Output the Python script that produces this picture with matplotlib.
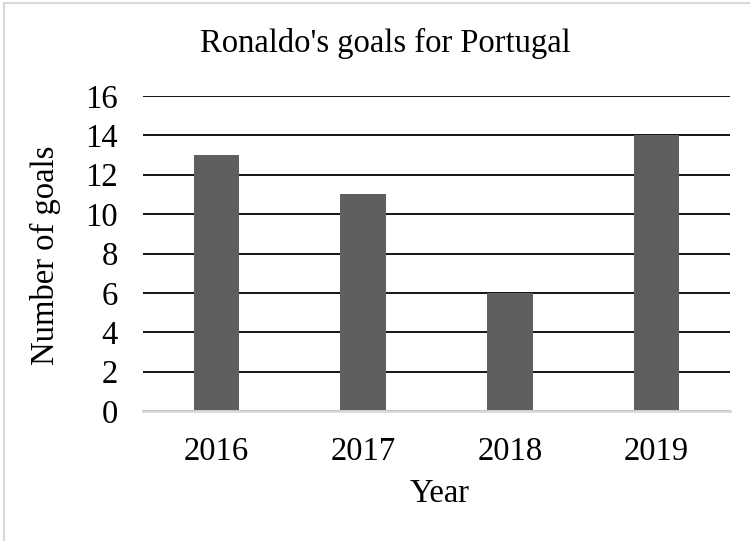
import matplotlib.pyplot as plt
from matplotlib.patches import Rectangle

years = ['2016', '2017', '2018', '2019']
goals = [13, 11, 6, 14]

plt.rcParams['font.family'] = ['Liberation Serif', 'DejaVu Serif']

fig = plt.figure(figsize=(7.5, 5.41), dpi=100)
ax = fig.add_axes([143 / 750, 1 - 411 / 541, 587 / 750, 315 / 541])

x = range(len(years))
ax.bar(x, goals, width=0.31, color='#5f5f5f', zorder=1)
ax.set_xlim(-0.5, len(years) - 0.5)
ax.set_ylim(0, 16)
ax.set_yticks(range(0, 17, 2))
ax.set_xticks(list(x))
ax.set_xticklabels(years)

ax.set_axisbelow(True)
ax.yaxis.grid(True, color='black', linewidth=1.3)
for s in ['top', 'left', 'right']:
    ax.spines[s].set_visible(False)
ax.spines['bottom'].set_color('#d9d9d9')
ax.spines['bottom'].set_linewidth(2)
ax.spines['bottom'].set_zorder(3)
ax.tick_params(axis='both', length=0, labelsize=23.5)
ax.tick_params(axis='y', pad=18)
ax.tick_params(axis='x', pad=18)

fig.text(385 / 750, 1 - 43 / 541, "Ronaldo's goals for Portugal", fontsize=23.5,
         ha='center', va='center')
fig.text(440 / 750, 1 - 494 / 541, 'Year', fontsize=23.5, ha='center', va='center')
fig.text(45 / 750, 1 - 255 / 541, 'Number of goals', fontsize=23.5, rotation=90,
         ha='center', va='center')

# outer chart border (only top/left visible in the crop)
fig.patches.append(Rectangle((4 / 750, -0.2), 1.2, 1.2 - 3 / 541,
                             transform=fig.transFigure, fill=False,
                             edgecolor='#d9d9d9', linewidth=1.5))

fig.savefig('out.png', dpi=100)
